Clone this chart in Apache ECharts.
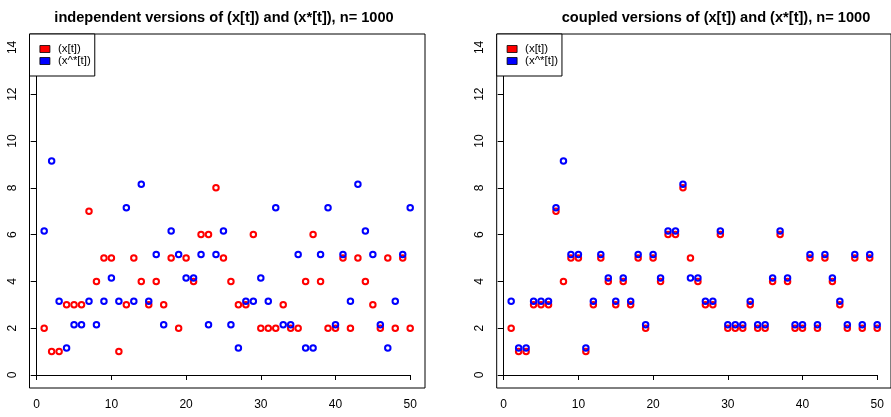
<!DOCTYPE html>
<html>
<head>
<meta charset="utf-8">
<script src="https://cdn.jsdelivr.net/npm/echarts@6/dist/echarts.min.js"></script>
<style>
html, body { margin: 0; padding: 0; background: #fff; }
#main { width: 891px; height: 417px; }
</style>
</head>
<body>
<div id="main"></div>
<script>
// time index 1..50
var t = [];
for (var i = 1; i <= 50; i++) t.push(i);

// x[t] (same chain in both panels)
var xIndep = [2,1,1,3,3,3,7,4,5,5,1,3,5,4,3,4,3,5,2,5,4,6,6,8,5,4,3,3,6,2,2,2,3,2,2,4,6,4,2,2,5,2,5,4,3,2,5,2,5,2];
// x*[t], independent copy
var xStarIndep = [6,9,3,1,2,2,3,2,3,4,3,7,3,8,3,5,2,6,5,4,4,5,2,5,6,2,1,3,3,4,3,7,2,2,5,1,1,5,7,2,5,3,8,6,5,2,1,3,5,7];
// x[t], coupled panel
var xCoup = [2,1,1,3,3,3,7,4,5,5,1,3,5,4,3,4,3,5,2,5,4,6,6,8,5,4,3,3,6,2,2,2,3,2,2,4,6,4,2,2,5,2,5,4,3,2,5,2,5,2];
// x*[t], coupled copy
var xStarCoup = [3,1,1,3,3,3,7,9,5,5,1,3,5,4,3,4,3,5,2,5,4,6,6,8,4,4,3,3,6,2,2,2,3,2,2,4,6,4,2,2,5,2,5,4,3,2,5,2,5,2];

var titles = ['independent versions of (x[t]) and (x*[t]), n= 1000',
              'coupled versions of (x[t]) and (x*[t]), n= 1000'];
var names = ['(x[t])', '(x^*[t])'];
var colors = ['#ff0000', '#0000ff'];

var shift = 0.15; // x* drawn slightly above so both are visible
var font = 'Liberation Sans, Arial, sans-serif';

function pts(vals, dy) {
    return vals.map(function (v, k) { return [t[k], v + dy]; });
}

// panel geometry (pixels): plot box and the 0..50 x 0..14 data area
var panels = [
    { boxLeft: 29.5, dataLeft: 36.7 },
    { boxLeft: 496.7, dataLeft: 503.7 }
];
var boxTop = 34, boxH = 354, boxW = 395.5;
var dataTop = 47.4, dataH = 327.6, dataW = 373.5;

var grids = [], xAxes = [], yAxes = [], legends = [];
panels.forEach(function (p) {
    grids.push({ left: p.boxLeft, top: boxTop, width: boxW, height: boxH,
        show: true, borderColor: '#000', borderWidth: 1, backgroundColor: 'transparent' });
    xAxes.push({ gridIndex: grids.length - 1, show: false, min: 0, max: 1 });
    yAxes.push({ gridIndex: grids.length - 1, show: false, min: 0, max: 1 });

    grids.push({ left: p.dataLeft, top: dataTop, width: dataW, height: dataH, show: false });
    xAxes.push({
        gridIndex: grids.length - 1, type: 'value', min: 0, max: 50, interval: 10,
        position: 'bottom', offset: 13,
        axisLine: { show: true, lineStyle: { color: '#000', width: 1 } },
        axisTick: { show: true, length: 5, lineStyle: { color: '#000' } },
        axisLabel: { color: '#000', fontSize: 12, fontFamily: font, margin: 11 },
        splitLine: { show: false }
    });
    yAxes.push({
        gridIndex: grids.length - 1, type: 'value', min: 0, max: 14, interval: 2,
        position: 'left', offset: 7.2,
        axisLine: { show: true, lineStyle: { color: '#000', width: 1 } },
        axisTick: { show: true, length: 6, lineStyle: { color: '#000' } },
        axisLabel: { color: '#000', fontSize: 12, fontFamily: font, margin: 11, rotate: 90 },
        splitLine: { show: false }
    });

    legends.push({
        left: p.boxLeft, top: boxTop, orient: 'vertical',
        data: names.map(function (n, k) {
            return { name: n, itemStyle: { color: colors[k], borderColor: '#000', borderWidth: 0.8 } };
        }),
        icon: 'rect', itemWidth: 10, itemHeight: 7, itemGap: 0,
        padding: [9, 4, 9, 10],
        borderColor: '#000', borderWidth: 1, backgroundColor: '#fff',
        textStyle: { fontSize: 11.5, fontFamily: font, color: '#000', lineHeight: 11.5, padding: [0, 0, 0, 3] },
        selectedMode: false
    });
});

function scatter(name, data, color, gi) {
    return {
        name: name, type: 'scatter', xAxisIndex: gi, yAxisIndex: gi,
        data: data, symbol: 'circle', symbolSize: 5.5, clip: false,
        itemStyle: { color: 'rgba(0,0,0,0)', borderColor: color, borderWidth: 2, opacity: 1 },
        emphasis: { disabled: true }
    };
}

var option = {
    animation: false,
    backgroundColor: '#fff',
    title: [
        { text: titles[0], left: 219, top: 5, textAlign: 'center',
          textStyle: { fontSize: 14.6, fontWeight: 'bold', fontFamily: font, color: '#000' } },
        { text: titles[1], left: 711, top: 5, textAlign: 'center',
          textStyle: { fontSize: 14.6, fontWeight: 'bold', fontFamily: font, color: '#000' } }
    ],
    legend: legends,
    grid: grids,
    xAxis: xAxes,
    yAxis: yAxes,
    series: [
        scatter(names[0], pts(xIndep, 0), colors[0], 1),
        scatter(names[1], pts(xStarIndep, shift), colors[1], 1),
        scatter(names[0], pts(xCoup, 0), colors[0], 3),
        scatter(names[1], pts(xStarCoup, shift), colors[1], 3)
    ]
};

var myChart = echarts.init(document.getElementById('main'));
myChart.setOption(option);
</script>
</body>
</html>
